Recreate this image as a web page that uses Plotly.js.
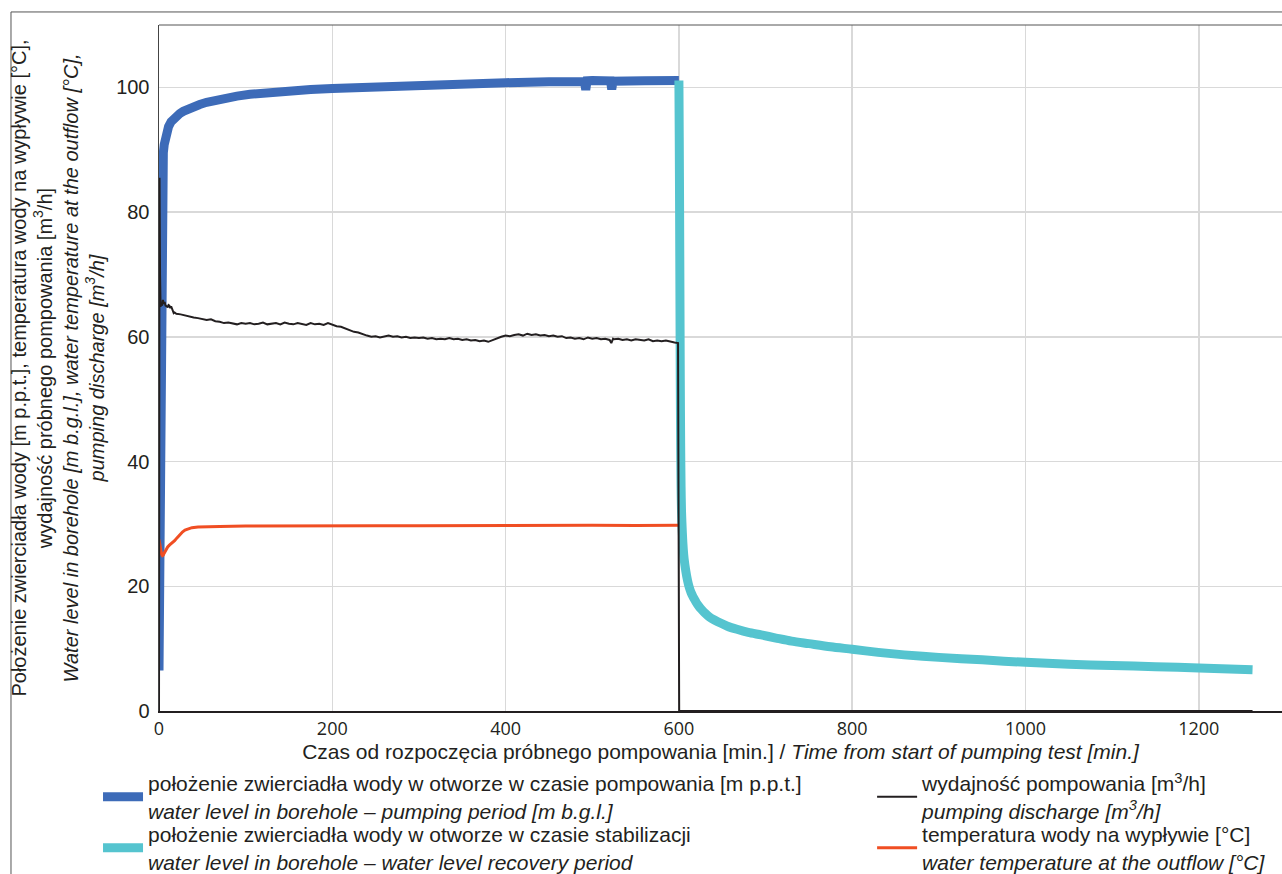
<!DOCTYPE html>
<html>
<head>
<meta charset="utf-8">
<script src="https://cdn.plot.ly/plotly-3.0.1.min.js"></script>
<style>
  html, body { margin: 0; padding: 0; background: #fff; }
  #chart { width: 1282px; height: 874px; }
</style>
</head>
<body>
<div id="chart"></div>
<script>
// ---- Data ----
const pumpingTime  = [0, 0.5, 1, 1.5, 2, 2.5, 3, 4, 5, 6, 7.5, 9, 11, 14, 17, 20, 24, 28, 33, 40, 47, 55, 65, 75, 90, 105, 125, 150, 175, 200, 250, 300, 350, 400, 450, 491, 492.5, 494, 500, 510, 521, 522.5, 524, 560, 600];
const pumpingLevel = [6.5, 20, 45, 65, 76, 81, 84, 87.5, 89.5, 90.8, 92, 92.9, 93.7, 94.5, 95.0, 95.4, 95.8, 96.15, 96.5, 96.9, 97.25, 97.6, 97.95, 98.25, 98.6, 98.9, 99.2, 99.45, 99.65, 99.8, 100.1, 100.4, 100.6, 100.75, 100.9, 100.95, 99.6, 101.05, 101.1, 101.1, 101.05, 99.7, 101.0, 101.05, 101.1];

const recoveryTime  = [600, 600.4, 600.8, 601.2, 601.6, 602, 602.5, 603, 604, 605, 606, 608, 610, 612, 614, 616, 618, 620, 623, 626, 630, 635, 641, 648, 656, 667, 680, 695, 712, 730, 750, 775, 800, 830, 860, 900, 950, 1000, 1050, 1100, 1150, 1200, 1262];
const recoveryLevel = [101.1, 92, 80, 66, 53, 43, 36, 32, 28.5, 26.0, 24.4, 22.4, 20.9, 19.8, 19.0, 18.4, 17.9, 17.4, 16.8, 16.3, 15.7, 15.1, 14.6, 14.1, 13.6, 13.1, 12.6, 12.2, 11.7, 11.2, 10.8, 10.3, 9.9, 9.4, 9.0, 8.6, 8.2, 7.8, 7.5, 7.3, 7.1, 6.9, 6.6];

const dischargeTime = [0, 0.6, 1.2, 1.8, 2.5, 3.5, 4.5, 5.5, 6.5, 7.5, 9, 10, 11, 12, 13, 14, 15, 16, 17, 18, 20,
  25, 30, 35, 40, 45, 50, 55, 60, 65, 70, 75, 80, 85, 90, 95, 100, 105, 110, 115, 120, 125, 130, 135, 140, 145, 150,
  155, 160, 165, 170, 175, 180, 185, 190, 195, 200, 205, 210, 215, 220, 225, 230, 235, 240, 245, 250, 255, 260, 265,
  270, 275, 280, 285, 290, 295, 300, 305, 310, 315, 320, 325, 330, 335, 340, 345, 350, 355, 360, 365, 370, 375, 380,
  385, 390, 395, 400, 405, 410, 415, 420, 425, 430, 435, 440, 445, 450, 455, 460, 465, 470, 475, 480, 485, 490, 495,
  500, 505, 510, 515, 520, 522, 524, 525, 530, 535, 540, 545, 550, 555, 560, 565, 570, 575, 580, 585, 590, 595, 599,
  600.3, 700, 800, 900, 1000, 1100, 1200, 1262];
const dischargeRate = [0, 85.5, 70, 64.8, 65.5, 65.0, 65.9, 65.3, 65.6, 65.0, 64.9, 64.7, 65.1, 65.0, 64.6, 64.9, 64.4, 64.0, 63.8, 63.9, 63.7,
  63.6, 63.4, 63.3, 63.1, 63.0, 62.9, 62.7, 62.8, 62.5, 62.4, 62.2, 62.3, 62.1, 62.0, 62.2, 62.1, 62.2, 62.0, 62.1, 62.3, 62.0, 62.1, 62.2, 62.0, 62.3, 62.1,
  62.0, 62.2, 62.1, 61.9, 62.2, 62.0, 62.1, 61.9, 62.2, 61.9, 61.7, 61.6, 61.3, 61.1, 60.8, 60.7, 60.4, 60.2, 60.0, 60.1, 59.9, 60.1, 60.2,
  60.0, 60.1, 59.9, 60.0, 59.8, 59.9, 59.8, 59.9, 59.7, 59.8, 59.6, 59.7, 59.6, 59.8, 59.6, 59.7, 59.5, 59.6, 59.4, 59.5, 59.3, 59.4, 59.2,
  59.5, 59.7, 60.0, 60.2, 60.1, 60.3, 60.4, 60.2, 60.5, 60.3, 60.4, 60.2, 60.3, 60.1, 60.2, 60.0, 60.1, 59.8, 59.9, 59.7, 59.8, 59.6, 59.9,
  59.7, 59.8, 59.6, 59.7, 59.5, 59.0, 59.7, 59.6, 59.7, 59.5, 59.6, 59.4, 59.6, 59.5, 59.4, 59.6, 59.3, 59.4, 59.3, 59.4, 59.2, 59.1, 59.0,
  0, 0, 0, 0, 0, 0, 0, 0];

const tempTime  = [0, 1, 2, 3, 4, 5, 6, 8, 10, 12, 15, 18, 21, 24, 27, 30, 34, 38, 45, 55, 70, 100, 150, 200, 250, 300, 350, 400, 450, 500, 550, 600];
const tempValue = [27.5, 26.5, 25.6, 25.1, 24.9, 25.0, 25.3, 25.9, 26.3, 26.6, 26.9, 27.3, 27.8, 28.3, 28.7, 29.0, 29.25, 29.4, 29.5, 29.55, 29.6, 29.65, 29.7, 29.7, 29.72, 29.7, 29.75, 29.7, 29.75, 29.8, 29.75, 29.8];

const xTickVals = [0, 200, 400, 600, 800, 1000, 1200];
const yTickVals = [0, 20, 40, 60, 80, 100];

const namePumping   = 'położenie zwierciadła wody w otworze w czasie pompowania [m p.p.t.]<br><i>water level in borehole – pumping period [m b.g.l.]</i>';
const nameRecovery  = 'położenie zwierciadła wody w otworze w czasie stabilizacji<br><i>water level in borehole – water level recovery period</i>';
const nameDischarge = 'wydajność pompowania [m<sup>3</sup>/h]<br><i>pumping discharge [m<sup>3</sup>/h]</i>';
const nameTemp      = 'temperatura wody na wypływie [°C]<br><i>water temperature at the outflow [°C]</i>';

const yTitle = 'Położenie zwierciadła wody [m p.p.t.], temperatura wody na wypływie [°C],<br>wydajność próbnego pompowania [m<sup>3</sup>/h]<br><i>Water level in borehole [m b.g.l.], water temperature at the outflow [°C],</i><br><i>pumping discharge [m<sup>3</sup>/h]</i>';
const xTitle = 'Czas od rozpoczęcia próbnego pompowania [min.] / <i>Time from start of pumping test [min.]</i>';

// ---- Styling ----
const FONT = '"Liberation Sans", Arial, sans-serif';
const INK = '#231f20';

const traces = [
  { x: pumpingTime, y: pumpingLevel, type: 'scatter', mode: 'lines', name: namePumping,
    line: { color: '#3d6bb8', width: 9 }, legend: 'legend' },
  { x: recoveryTime, y: recoveryLevel, type: 'scatter', mode: 'lines', name: nameRecovery,
    line: { color: '#55c4cf', width: 9, shape: 'spline', smoothing: 0.8 }, legend: 'legend3' },
  { x: tempTime, y: tempValue, type: 'scatter', mode: 'lines', name: nameTemp,
    line: { color: '#f04e23', width: 3 }, legend: 'legend4' },
  { x: dischargeTime, y: dischargeRate, type: 'scatter', mode: 'lines', name: nameDischarge,
    line: { color: INK, width: 2 }, legend: 'legend2' }
];

const legendBase = {
  font: { family: FONT, size: 21, color: INK },
  bgcolor: 'rgba(0,0,0,0)', borderwidth: 0,
  xanchor: 'left', yanchor: 'top', itemwidth: 40, orientation: 'v'
};
const colL = -0.0543, colR = 0.635, rowT = -0.0758, rowB = -0.1501;

const layout = {
  width: 1282, height: 874,
  margin: { l: 159, r: 0, t: 25, b: 163, pad: 0, autoexpand: false },
  paper_bgcolor: '#fff', plot_bgcolor: '#fff',
  font: { family: FONT, color: INK },
  showlegend: true,
  legend:  Object.assign({}, legendBase, { x: colL, y: rowT }),
  legend2: Object.assign({}, legendBase, { x: colR, y: rowT }),
  legend3: Object.assign({}, legendBase, { x: colL, y: rowB }),
  legend4: Object.assign({}, legendBase, { x: colR, y: rowB }),
  xaxis: {
    range: [0, 1296], tickvals: xTickVals, ticktext: xTickVals.map(String),
    showgrid: true, gridcolor: '#d9d9d9', gridwidth: 1.5,
    zeroline: false, showline: true, linecolor: INK, linewidth: 2,
    ticks: '', tickfont: { family: '"Open Sans", sans-serif', size: 18, color: INK },
    title: { text: xTitle, font: { family: FONT, size: 21, color: INK }, standoff: 6 },
    automargin: false
  },
  yaxis: {
    range: [0, 110], tickvals: yTickVals, ticktext: yTickVals.map(String),
    showgrid: true, gridcolor: '#d9d9d9', gridwidth: 1.5,
    zeroline: false, showline: true, linecolor: '#444', linewidth: 1.5,
    ticks: '', ticklabelstandoff: 4,
    tickfont: { family: FONT, size: 20, color: INK },
    title: { text: yTitle, font: { family: FONT, size: 20, color: INK }, standoff: 6 },
    automargin: false
  },
  shapes: [
    // top border of the plot area
    { type: 'line', xref: 'paper', yref: 'paper', x0: 0, x1: 1, y0: 1, y1: 1,
      line: { color: '#555', width: 1 } },
    // outer frame of the figure (left and top edges)
    { type: 'line', xref: 'paper', yref: 'paper', x0: -0.1318, x1: -0.1318, y0: -0.26, y1: 1.019,
      line: { color: '#555', width: 1 } },
    { type: 'line', xref: 'paper', yref: 'paper', x0: -0.1318, x1: 1.01, y0: 1.019, y1: 1.019,
      line: { color: '#555', width: 1 } }
  ]
};

Plotly.newPlot('chart', traces, layout, { displayModeBar: false, staticPlot: true });
</script>
</body>
</html>
